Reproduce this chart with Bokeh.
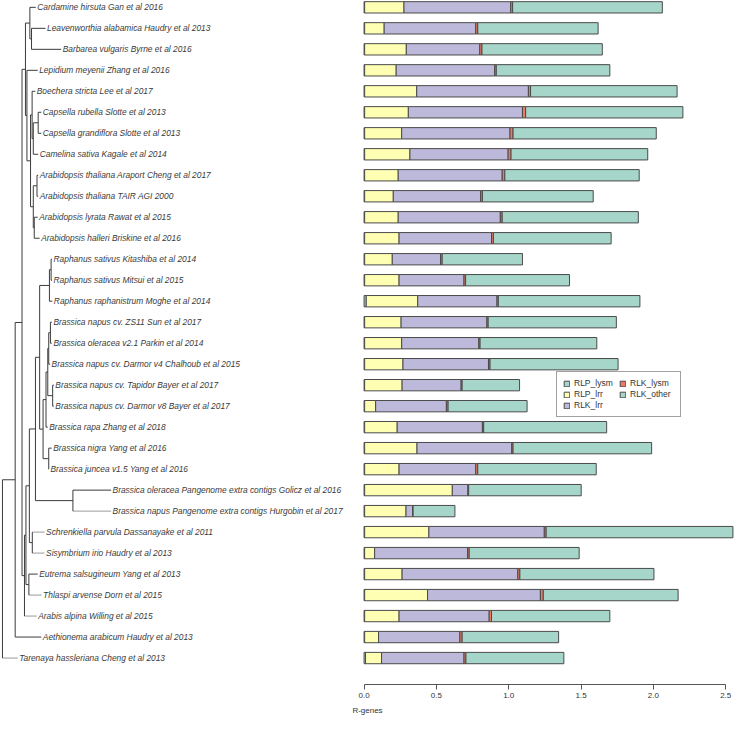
import re
from bokeh.plotting import figure
from bokeh.models import (Range1d, FixedTicker, NumeralTickFormatter, ColumnDataSource,
                          Legend, LegendItem)
from bokeh.core.properties import value
from bokeh.embed import file_html
from bokeh.resources import INLINE

# ---------------- data ----------------
species = [
    "Cardamine hirsuta Gan et al 2016",
    "Leavenworthia alabamica Haudry et al 2013",
    "Barbarea vulgaris Byrne et al 2016",
    "Lepidium meyenii Zhang et al 2016",
    "Boechera stricta Lee et al 2017",
    "Capsella rubella Slotte et al 2013",
    "Capsella grandiflora Slotte et al 2013",
    "Camelina sativa Kagale et al 2014",
    "Arabidopsis thaliana Araport Cheng et al 2017",
    "Arabidopsis thaliana TAIR AGI 2000",
    "Arabidopsis lyrata Rawat et al 2015",
    "Arabidopsis halleri Briskine et al 2016",
    "Raphanus sativus Kitashiba et al 2014",
    "Raphanus sativus Mitsui et al 2015",
    "Raphanus raphanistrum Moghe et al 2014",
    "Brassica napus cv. ZS11 Sun et al 2017",
    "Brassica oleracea v2.1 Parkin et al 2014",
    "Brassica napus cv. Darmor v4 Chalhoub et al 2015",
    "Brassica napus cv. Tapidor Bayer et al 2017",
    "Brassica napus cv. Darmor v8 Bayer et al 2017",
    "Brassica rapa Zhang et al 2018",
    "Brassica nigra Yang et al 2016",
    "Brassica juncea v1.5 Yang et al 2016",
    "Brassica oleracea Pangenome extra contigs Golicz et al 2016",
    "Brassica napus Pangenome extra contigs Hurgobin et al 2017",
    "Schrenkiella parvula Dassanayake et al 2011",
    "Sisymbrium irio Haudry et al 2013",
    "Eutrema salsugineum Yang et al 2013",
    "Thlaspi arvense Dorn et al 2015",
    "Arabis alpina Willing et al 2015",
    "Aethionema arabicum Haudry et al 2013",
    "Tarenaya hassleriana Cheng et al 2013",
]

RLP_lysm = [0.004, 0.004, 0.004, 0.004, 0.004, 0.004, 0.004, 0.004, 0.004, 0.004, 0.004,
            0.004, 0.004, 0.004, 0.015, 0.004, 0.004, 0.004, 0.004, 0.004, 0.004, 0.004,
            0.004, 0.004, 0.004, 0.004, 0.004, 0.004, 0.004, 0.004, 0.004, 0.010]
RLP_lrr = [0.272, 0.135, 0.288, 0.218, 0.360, 0.302, 0.256, 0.313, 0.232, 0.198, 0.232,
           0.238, 0.191, 0.238, 0.356, 0.252, 0.256, 0.265, 0.259, 0.076, 0.225, 0.362,
           0.238, 0.606, 0.286, 0.444, 0.069, 0.259, 0.435, 0.238, 0.096, 0.111]
RLK_lrr = [0.738, 0.633, 0.508, 0.681, 0.772, 0.789, 0.749, 0.679, 0.719, 0.604, 0.706,
           0.639, 0.334, 0.449, 0.548, 0.593, 0.533, 0.591, 0.408, 0.489, 0.589, 0.655,
           0.530, 0.108, 0.047, 0.798, 0.643, 0.800, 0.780, 0.623, 0.562, 0.570]
RLK_lysm = [0.013, 0.014, 0.015, 0.011, 0.015, 0.022, 0.021, 0.020, 0.018, 0.012, 0.013,
            0.013, 0.011, 0.011, 0.009, 0.009, 0.009, 0.011, 0.007, 0.012, 0.009, 0.009,
            0.014, 0.005, 0.002, 0.013, 0.011, 0.014, 0.020, 0.016, 0.016, 0.013]
RLK_other = [1.035, 0.832, 0.832, 0.785, 1.013, 1.087, 0.990, 0.945, 0.929, 0.766, 0.941,
             0.814, 0.555, 0.718, 0.979, 0.886, 0.807, 0.885, 0.397, 0.546, 0.850, 0.958,
             0.819, 0.778, 0.289, 1.291, 0.760, 0.927, 0.932, 0.818, 0.667, 0.677]

series_names = ["RLP_lysm", "RLP_lrr", "RLK_lrr", "RLK_lysm", "RLK_other"]
series_colors = ["#a6d6c9", "#ffffb3", "#bdb9da", "#ee7a66", "#a6d6c9"]

x_ticks = [0.0, 0.5, 1.0, 1.5, 2.0, 2.5]

# Tree (Newick, tips are 1-based indices into species, branch lengths in tree units)
clade_lineage1 = ("((1:6,(2:14.3,3:30.3):1.7):4.5,(4:11,((5:3.2,((6:3.2,7:3.2):5,8:5):1.2):1.6,"
                  "((9:1.2,10:1.2):3.8,(11:3.5,12:5.5):1):2.8):3.7):1.5)")
clade_brassica = ("(((((16:1.5,17:1.5):1.7,18:1.4):1,(19:1.2,20:1.2):5):1.8,21:1.8):3,"
                  "(22:3,23:0.2):5.8)")
clade_brassiceae = "((((13:1,14:1):1.7,15:3):10," + clade_brassica + ":3.5):4.3,(24:39,25:39):38.3)"
clade_lineage2 = ("(((" + clade_brassiceae + ":6.2,(26:12.5,27:12.5):3):3.5,(28:9,29:13):3):1.5,30:12.5)")
tree_newick = "(((" + clade_lineage1 + ":3.5," + clade_lineage2 + ":2.5):7,31:26.7):13,32:15.5);"
light_tips = {"25", "26", "27", "29", "30", "32"}


# ---------------- tree parsing / layout ----------------
def parse_newick(s):
    pos = 0

    def node():
        nonlocal pos
        children = []
        name = None
        if s[pos] == "(":
            pos += 1
            children.append(node())
            while s[pos] == ",":
                pos += 1
                children.append(node())
            pos += 1  # ')'
        else:
            m = re.match(r"[^:,();]+", s[pos:])
            name = m.group(0)
            pos += len(name)
        bl = 0.0
        if pos < len(s) and s[pos] == ":":
            m = re.match(r":([0-9.]+)", s[pos:])
            bl = float(m.group(1))
            pos += len(m.group(0))
        return {"name": name, "bl": bl, "children": children}

    return node()


tree = parse_newick(tree_newick)
seg = dict(x0=[], y0=[], x1=[], y1=[], c=[])
tip_x, tip_y, tip_text = [], [], []
counter = [0]
DARK, LIGHT = "#3c3c3c", "#9a9a9a"


def layout(n, depth, is_root=False):
    x = depth + n["bl"]
    col = DARK
    if not n["children"]:
        counter[0] += 1
        y = counter[0]
        tip_x.append(x)
        tip_y.append(y)
        tip_text.append(species[int(n["name"]) - 1])
        if n["name"] in light_tips:
            col = LIGHT
    else:
        ys = [layout(c, x) for c in n["children"]]
        y = (ys[0] + ys[-1]) / 2.0
        for k, v in zip(["x0", "y0", "x1", "y1", "c"], [x, ys[0], x, ys[-1], DARK]):
            seg[k].append(v)
    if not is_root:
        for k, v in zip(["x0", "y0", "x1", "y1", "c"], [depth, y, x, y, col]):
            seg[k].append(v)
    return y


layout(tree, 0.0, is_root=True)

# ---------------- figure ----------------
W, H = 734, 718
p = figure(width=W, height=H, output_backend="svg", toolbar_location=None,
           x_range=Range1d(-2.5135, 2.5609), y_range=Range1d(33.26, 0.674),
           y_axis_location=None, min_border_left=0, min_border_right=0,
           min_border_top=0, min_border_bottom=34)
p.extra_x_ranges = {"tree": Range1d(-2, 748)}
p.grid.visible = False
p.outline_line_color = None
p.background_fill_color = "white"
p.border_fill_color = "white"

p.segment(x0="x0", y0="y0", x1="x1", y1="y1", line_color="c", line_width=1,
          source=ColumnDataSource(seg), x_range_name="tree")
p.text(x=tip_x, y=tip_y, text=tip_text, x_range_name="tree", x_offset=1.5,
       text_font=value("Liberation Sans"), text_font_style="italic",
       text_font_size="8.4px", text_color="#3a3a3a", text_baseline="middle")

src = ColumnDataSource(dict(row=list(range(1, len(species) + 1)),
                            RLP_lysm=RLP_lysm, RLP_lrr=RLP_lrr, RLK_lrr=RLK_lrr,
                            RLK_lysm=RLK_lysm, RLK_other=RLK_other))
bars = p.hbar_stack(series_names, y="row", height=0.54, fill_color=series_colors,
                    line_color="#4a4a4a", line_width=1, source=src)

legend = Legend(items=[LegendItem(label=n, renderers=[r]) for n, r in zip(series_names, bars)],
                orientation="vertical", nrows=3, location=(556, 267),
                label_text_font="Liberation Sans", label_text_font_size="8.5px",
                label_text_color="#333333", glyph_width=7, glyph_height=7,
                label_height=9, label_width=44, label_standoff=4, spacing=1,
                padding=6, margin=0, border_line_color="#444444", border_line_width=1,
                background_fill_color="white", background_fill_alpha=1)
p.add_layout(legend)

ax = p.xaxis[0]
ax.ticker = FixedTicker(ticks=x_ticks)
ax.formatter = NumeralTickFormatter(format="0.0")
ax.bounds = (0, 2.5)
ax.axis_label = "R-genes"
ax.axis_label_text_font = "Liberation Sans"
ax.axis_label_text_font_style = "normal"
ax.axis_label_text_font_size = "8px"
ax.axis_label_text_color = "#333333"
ax.axis_label_standoff = 5
ax.major_label_text_font = "Liberation Sans"
ax.major_label_text_font_size = "8px"
ax.major_label_text_color = "#333333"
ax.major_label_standoff = 3
ax.major_tick_in = 0
ax.major_tick_out = 5
ax.minor_tick_in = 0
ax.minor_tick_out = 0
ax.axis_line_color = "#555555"
ax.major_tick_line_color = "#555555"

open("out.html", "w").write(file_html(p, INLINE))
